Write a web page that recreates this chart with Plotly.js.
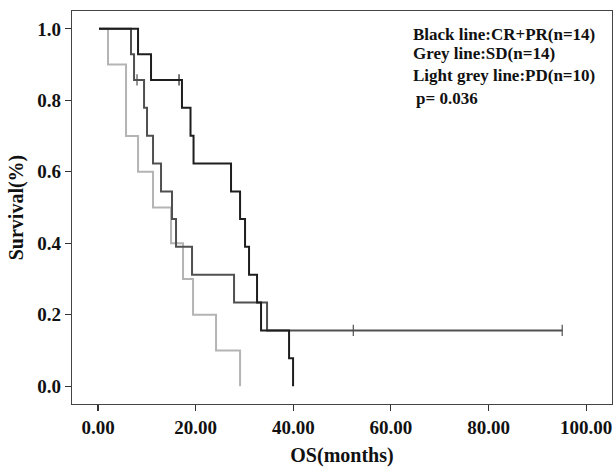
<!DOCTYPE html>
<html>
<head>
<meta charset="utf-8">
<script src="https://cdn.plot.ly/plotly-3.0.1.min.js"></script>
<style>html,body{margin:0;padding:0;background:#fff;}#chart{width:613px;height:467px;}</style>
</head>
<body>
<div id="chart"></div>
<script>
// Kaplan-Meier step data (months, survival fraction)
const pdTimes = [0.2, 2.05, 5.74, 8.2, 11.27, 14.96, 17.42, 19.47, 24.18, 29.1];
const pdSurv  = [1, 0.9, 0.7, 0.6, 0.5, 0.4, 0.3, 0.2, 0.1, 0];

const sdTimes = [0.2, 6.76, 7.38, 9.43, 10.04, 11.27, 12.91, 15.16, 15.98, 19.26, 27.87, 34.63, 95.1];
const sdSurv  = [1, 0.929, 0.857, 0.779, 0.701, 0.623, 0.545, 0.468, 0.390, 0.312, 0.234, 0.156, 0.156];
const sdCensorTimes = [7.99, 52.3, 95.1];
const sdCensorSurv  = [0.857, 0.156, 0.156];

const crTimes = [0.2, 8.2, 10.86, 17.2, 18.95, 19.57, 27.25, 29.1, 30.12, 30.94, 32.58, 33.4, 39.14, 39.96];
const crSurv  = [1, 0.929, 0.857, 0.779, 0.701, 0.623, 0.545, 0.468, 0.390, 0.312, 0.234, 0.156, 0.078, 0];
const crCensorTimes = [16.6];
const crCensorSurv  = [0.857];

const xTicks = [0, 20, 40, 60, 80, 100];
const yTicks = [0, 0.2, 0.4, 0.6, 0.8, 1.0];

const legendLines = ["Black line:CR+PR(n=14)", "Grey line:SD(n=14)", "Light grey line:PD(n=10)", "p= 0.036"];

const FONT = "Liberation Serif, Times New Roman, serif";
const cBlack = "#1e1e1e", cGrey = "#505050", cLight = "#b4b4b4";

function stepTrace(x, y, color) {
  return {x: x, y: y, mode: "lines", type: "scatter", line: {shape: "hv", color: color, width: 2}, hoverinfo: "skip", showlegend: false};
}
function censorTrace(x, y, color) {
  return {x: x, y: y, mode: "markers", type: "scatter",
    marker: {symbol: "line-ns-open", size: 8, color: color, line: {color: color, width: 1.2}}, hoverinfo: "skip", showlegend: false};
}

const data = [
  stepTrace(pdTimes, pdSurv, cLight),
  stepTrace(sdTimes, sdSurv, cGrey),
  censorTrace(sdCensorTimes, sdCensorSurv, cGrey),
  stepTrace(crTimes, crSurv, cBlack),
  censorTrace(crCensorTimes, crCensorSurv, cBlack)
];

const annY = [0.939, 0.893, 0.835, 0.7786];
const annX = [0.6280, 0.6280, 0.6280, 0.633];
const annotations = legendLines.map((t, i) => ({
  text: "<b>" + t + "</b>", xref: "paper", yref: "paper", x: annX[i], y: annY[i],
  xanchor: "left", yanchor: "middle", showarrow: false,
  font: {family: FONT, size: 17, color: "#111"}
}));

const layout = {
  width: 613, height: 467,
  margin: {l: 72, r: 1, t: 11, b: 63},
  paper_bgcolor: "#fff", plot_bgcolor: "#fff",
  showlegend: false,
  font: {family: FONT, color: "#111"},
  xaxis: {
    range: [-5.33, 105.3], tickvals: xTicks, ticktext: xTicks.map(v => "<b>" + v.toFixed(2) + "</b>"),
    ticks: "outside", ticklen: 6, tickwidth: 1.2, tickcolor: "#333",
    showline: true, linecolor: "#444", linewidth: 1.2, mirror: true,
    showgrid: false, zeroline: false,
    tickfont: {family: FONT, size: 19, color: "#111"},
    title: {text: "<b>OS(months)</b>", font: {family: FONT, size: 20, color: "#111"}, standoff: 12}
  },
  yaxis: {
    range: [-0.05, 1.05], tickvals: yTicks, ticktext: yTicks.map(v => "<b>" + v.toFixed(1) + "</b>"),
    ticks: "outside", ticklen: 6, tickwidth: 1.2, tickcolor: "#333",
    showline: true, linecolor: "#444", linewidth: 1.2, mirror: true,
    showgrid: false, zeroline: false,
    tickfont: {family: FONT, size: 19, color: "#111"},
    title: {text: "<b>Survival(%)</b>", font: {family: FONT, size: 20, color: "#111"}, standoff: 8}
  },
  annotations: annotations
};

Plotly.newPlot("chart", data, layout, {staticPlot: true, displayModeBar: false});
</script>
</body>
</html>
